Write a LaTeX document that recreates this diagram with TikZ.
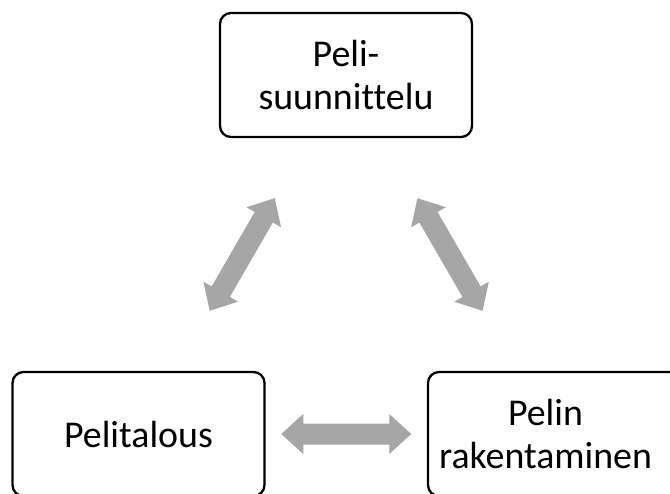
\documentclass[tikz,border=0pt]{standalone}
\usepackage{fontspec}
\setmainfont[Ligatures=NoCommon]{Carlito}
\usetikzlibrary{calc}
\definecolor{arrowgray}{HTML}{A6A6A6}
\begin{document}
\begin{tikzpicture}[x=1bp,y=-1bp,
  stage/.style={draw=black, line width=2.3bp, rounded corners=11bp,
    minimum width=252bp, minimum height=124bp, inner sep=0pt,
    align=center, font=\fontsize{38}{44}\selectfont},
  % thick two-headed block arrow between two points
  twoway/.style={fill=arrowgray, draw=none, to path={
    -- ($(\tikztostart)!22bp!(\tikztotarget)!20bp!90:(\tikztotarget)$)
    -- ($(\tikztostart)!22bp!(\tikztotarget)!10.5bp!90:(\tikztotarget)$)
    -- ($(\tikztotarget)!22bp!(\tikztostart)!10.5bp!-90:(\tikztostart)$)
    -- ($(\tikztotarget)!22bp!(\tikztostart)!20bp!-90:(\tikztostart)$)
    -- (\tikztotarget)
    -- ($(\tikztotarget)!22bp!(\tikztostart)!20bp!90:(\tikztostart)$)
    -- ($(\tikztotarget)!22bp!(\tikztostart)!10.5bp!90:(\tikztostart)$)
    -- ($(\tikztostart)!22bp!(\tikztotarget)!10.5bp!-90:(\tikztotarget)$)
    -- ($(\tikztostart)!22bp!(\tikztotarget)!20bp!-90:(\tikztotarget)$)
    -- cycle}}
]
\useasboundingbox (0,0) rectangle (670,494);

% the three stages
\node[stage] (design) at (346,75) {Peli-\\suunnittelu};
\node[stage] (econ) at (138.5,434) {Pelitalous};
\node[stage] (build) at (554,434)
  {\hspace*{-17bp}Pelin\\\hspace*{-17bp}rakentaminen};

% arrow end points, centred between the stages
\coordinate (a1) at ($(econ)!0.5!(design)!65bp!(econ)$);
\coordinate (a2) at ($(econ)!0.5!(design)!65bp!(design)$);
\coordinate (b1) at ($(design)!0.5!(build)!65bp!(design)$);
\coordinate (b2) at ($(design)!0.5!(build)!65bp!(build)$);
\coordinate (c1) at ($(econ)!0.5!(build)!65bp!(econ)$);
\coordinate (c2) at ($(econ)!0.5!(build)!65bp!(build)$);

\path[twoway] (a1) to (a2);
\path[twoway] (b1) to (b2);
\path[twoway] (c1) to (c2);
\end{tikzpicture}
\end{document}
